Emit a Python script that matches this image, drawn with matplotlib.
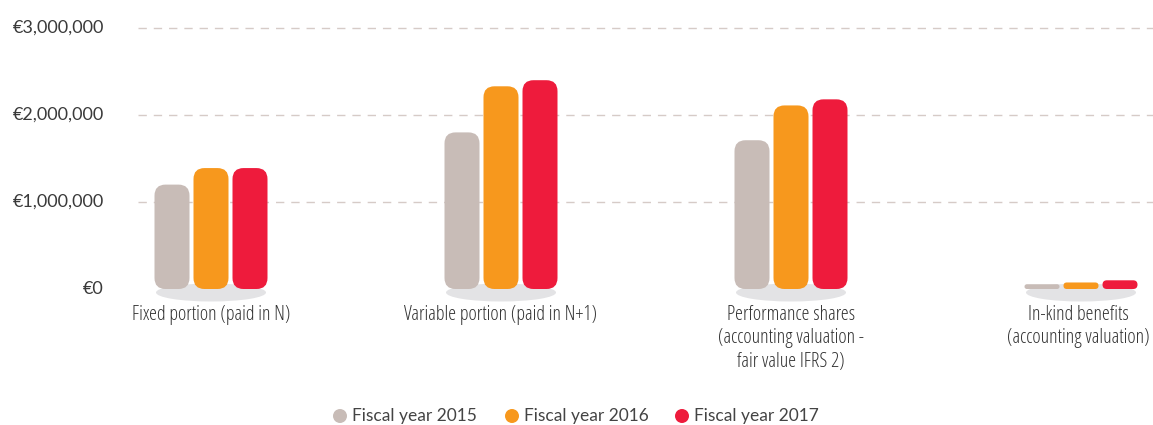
import matplotlib.pyplot as plt
import numpy as np
from matplotlib.patches import FancyBboxPatch, Ellipse

categories = ['Fixed portion (paid in N)',
              'Variable portion (paid in N+1)',
              'Performance shares\n(accounting valuation -\nfair value IFRS 2)',
              'In-kind benefits\n(accounting valuation)']
years = ['Fiscal year 2015', 'Fiscal year 2016', 'Fiscal year 2017']
fy2015 = [1200000, 1800000, 1710000, 55000]
fy2016 = [1390000, 2330000, 2110000, 75000]
fy2017 = [1390000, 2400000, 2180000, 100000]
yticks = [0, 1000000, 2000000, 3000000]
ytick_labels = ['€0', '€1,000,000', '€2,000,000', '€3,000,000']

colors = ['#c8bcb7', '#f7981d', '#ee1b3c']
series = [fy2015, fy2016, fy2017]

W, H = 1153, 425
fig = plt.figure(figsize=(W / 100, H / 100), dpi=100)

# axes box in pixels
ax_left, ax_right = 138, 1153
y_zero, px_per_m = 289, 87.0
y_top = 3.2
ax = fig.add_axes([ax_left / W, (H - y_zero) / H,
                   (ax_right - ax_left) / W, y_top * px_per_m / H])

px_per_group = 290.0
x0 = -(211 - ax_left) / px_per_group
ax.set_xlim(x0, x0 + (ax_right - ax_left) / px_per_group)
ax.set_ylim(0, y_top * 1e6)
ax.axis('off')

# px -> data conversions
px_x = 1.0 / px_per_group
px_y = 1e6 / px_per_m
aspect = px_y / px_x

tick_font = ['Lato', 'DejaVu Sans']
cat_font = ['Open Sans', 'DejaVu Sans']

# gridlines and y labels
for t, lab in zip(yticks, ytick_labels):
    if t > 0:
        ax.plot([x0, x0 + 10], [t, t], color='#d6cbc7', lw=1.0,
                dashes=(6, 5), zorder=0)
    ax.text(-34 / (ax_right - ax_left), t, lab,
            transform=ax.get_yaxis_transform(), ha='right', va='center',
            fontsize=13, color='#3a3a3a', family=tick_font)

bar_w = 35 * px_x
step = 39 * px_x
n = len(categories)
for i in range(n):
    # shadow under each group
    ax.add_patch(Ellipse((i, -3.5 * px_y), 110 * px_x, 18 * px_y,
                         facecolor='#e3e3e5', edgecolor='none',
                         zorder=1, clip_on=False))
    for j, (vals, c) in enumerate(zip(series, colors)):
        h = vals[i]
        xc = i + (j - 1) * step
        r = min(11 * px_x, h / aspect / 2)
        ax.add_patch(FancyBboxPatch((xc - bar_w / 2, 0), bar_w, h,
                                    boxstyle=f'round,pad=0,rounding_size={r}',
                                    mutation_aspect=aspect,
                                    facecolor=c, edgecolor='none', zorder=2,
                                    clip_on=False))
    # keep the last label inside the right edge
    xl = i - 3 * px_x if i == n - 1 else i
    ax.text(xl, -16 * px_y, categories[i], ha='center', va='top',
            fontsize=14.4, color='#333333', family=cat_font,
            fontstretch='condensed', fontweight='light',
            linespacing=1.22, multialignment='center')

# legend row
leg_circle_x = [340, 512, 682]
for xp, lab, c in zip(leg_circle_x, years, colors):
    fig.patches.append(Ellipse((xp / W, (H - 416) / H), 14 / W, 14 / H,
                               transform=fig.transFigure,
                               facecolor=c, edgecolor='none'))
    fig.text((xp + 12) / W, (H - 416) / H, lab, ha='left', va='center',
             fontsize=12.5, color='#444444', family=tick_font)

fig.savefig('out.png', dpi=100)
